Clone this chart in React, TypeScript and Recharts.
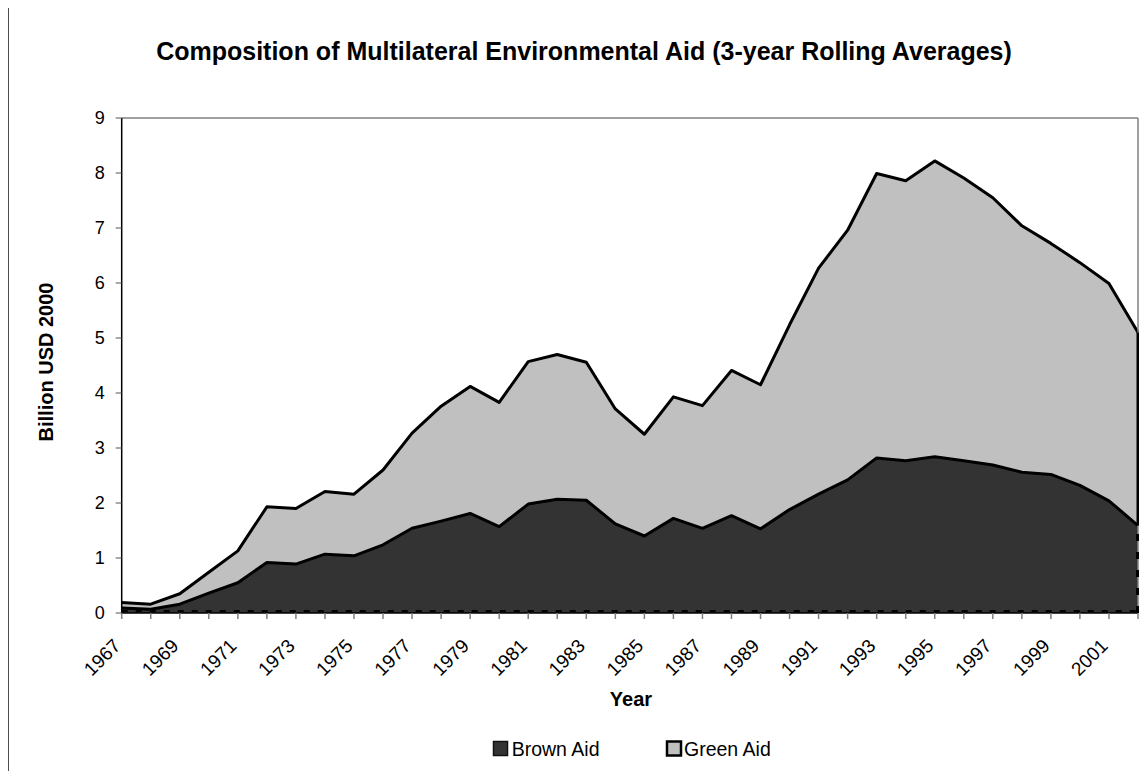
import React from 'react';
import { AreaChart, Area, XAxis, YAxis, ReferenceLine } from 'recharts';

const years = ['1967','1968','1969','1970','1971','1972','1973','1974','1975','1976','1977','1978','1979','1980','1981','1982','1983','1984','1985','1986','1987','1988','1989','1990','1991','1992','1993','1994','1995','1996','1997','1998','1999','2000','2001','2002'];
const brownAid = [0.09,0.07,0.16,0.36,0.55,0.92,0.89,1.07,1.04,1.24,1.54,1.67,1.81,1.57,1.98,2.07,2.05,1.62,1.40,1.72,1.54,1.77,1.53,1.88,2.16,2.42,2.82,2.77,2.84,2.77,2.69,2.56,2.52,2.32,2.04,1.59];
const greenAid = [0.10,0.09,0.19,0.38,0.58,1.01,1.01,1.14,1.12,1.36,1.73,2.09,2.31,2.26,2.59,2.63,2.51,2.09,1.85,2.21,2.23,2.64,2.62,3.36,4.11,4.54,5.17,5.09,5.38,5.14,4.86,4.48,4.20,4.05,3.95,3.51];
const yTicks = [0,1,2,3,4,5,6,7,8,9];

const data = years.map((y, i) => ({ year: y, brown: brownAid[i], green: greenAid[i] }));
const lastYear = years[years.length - 1];
const lastBrown = brownAid[brownAid.length - 1];
const lastTotal = lastBrown + greenAid[greenAid.length - 1];

const FONT = '"Liberation Sans", Arial, Helvetica, sans-serif';

const XTick = (props: any) => {
  const { x, y, payload } = props;
  const yr = Number(payload.value);
  if (yr % 2 === 0) return null;
  const ty = y + 26;
  return (
    <text x={x} y={ty} transform={`rotate(-45, ${x}, ${ty})`} textAnchor="end" fontSize={19} fontFamily={FONT} fill="#000">
      {payload.value}
    </text>
  );
};

const BaseDash = (props: any) => {
  const { x1, x2, y1, y2 } = props;
  return <line x1={x1} x2={x2} y1={y1 - 2} y2={y2 - 2} stroke="#000" strokeWidth={2} strokeDasharray="6 8" />;
};

export default function App() {
  const W = 1139;
  const H = 763;
  return (
    <div style={{ position: 'relative', width: W, height: H, fontFamily: FONT }}>
      <AreaChart width={W} height={H} data={data} margin={{ top: 110, right: 9, bottom: 98, left: 53.7 }}>
        <XAxis
          dataKey="year"
          scale="point"
          padding={{ left: 0, right: 0 }}
          interval={0}
          tick={<XTick />}
          tickSize={6}
          tickMargin={2}
          height={60}
          axisLine={{ stroke: '#000', strokeWidth: 1.5 }}
          tickLine={{ stroke: '#808080', strokeWidth: 1.5 }}
        />
        <YAxis
          domain={[0, 9]}
          ticks={yTicks}
          interval={0}
          width={60}
          tickSize={6}
          tickMargin={11}
          tick={{ fontSize: 18, fill: '#000', fontFamily: FONT }}
          axisLine={{ stroke: '#000', strokeWidth: 1.5 }}
          tickLine={{ stroke: '#555', strokeWidth: 1 }}
        />
        <Area type="linear" dataKey="brown" stackId="fill" fill="#333333" fillOpacity={1} stroke="none" isAnimationActive={false} />
        <Area type="linear" dataKey="green" stackId="fill" fill="#c0c0c0" fillOpacity={1} stroke="none" isAnimationActive={false} />
        <Area type="linear" dataKey="brown" stackId="line" fill="none" stroke="#000" strokeWidth={3} strokeLinejoin="round" isAnimationActive={false} />
        <Area type="linear" dataKey="green" stackId="line" fill="none" stroke="#000" strokeWidth={3} strokeLinejoin="round" isAnimationActive={false} />
        <ReferenceLine y={9} stroke="#808080" strokeWidth={1.5} />
        <ReferenceLine x={lastYear} stroke="#808080" strokeWidth={1.5} />
        <ReferenceLine y={0} shape={<BaseDash />} />
        <ReferenceLine segment={[{ x: lastYear, y: lastBrown }, { x: lastYear, y: lastTotal }]} stroke="#000" strokeWidth={3} />
        <ReferenceLine segment={[{ x: lastYear, y: 0 }, { x: lastYear, y: lastBrown }]} stroke="#000" strokeWidth={4} strokeDasharray="7 11" />
      </AreaChart>
      <svg width={1147} height={771} style={{ position: 'absolute', left: -8, top: -8, pointerEvents: 'none' }}>
        <line x1={6.5} y1={6.5} x2={1147} y2={6.5} stroke="#000" strokeWidth={3} />
        <line x1={7.7} y1={5} x2={7.7} y2={771} stroke="#000" strokeWidth={2} />
        <text x={584} y={60} textAnchor="middle" fontSize={25} fontWeight="bold" fontFamily={FONT} fill="#000">
          Composition of Multilateral Environmental Aid (3-year Rolling Averages)
        </text>
        <text x={631} y={706} textAnchor="middle" fontSize={20} fontWeight="bold" fontFamily={FONT} fill="#000">Year</text>
        <text x={53} y={362} transform="rotate(-90, 53, 362)" textAnchor="middle" fontSize={20} fontWeight="bold" fontFamily={FONT} fill="#000">Billion USD 2000</text>
        <rect x={493.5} y={741.5} width={14} height={14} fill="#333333" stroke="#111" strokeWidth={1.5} />
        <text x={511.7} y={756} fontSize={19.5} fontFamily={FONT} fill="#000">Brown Aid</text>
        <rect x={667} y={741.5} width={14} height={14} fill="#c0c0c0" stroke="#000" strokeWidth={2.5} />
        <text x={684} y={756} fontSize={19.5} fontFamily={FONT} fill="#000">Green Aid</text>
      </svg>
    </div>
  );
}
